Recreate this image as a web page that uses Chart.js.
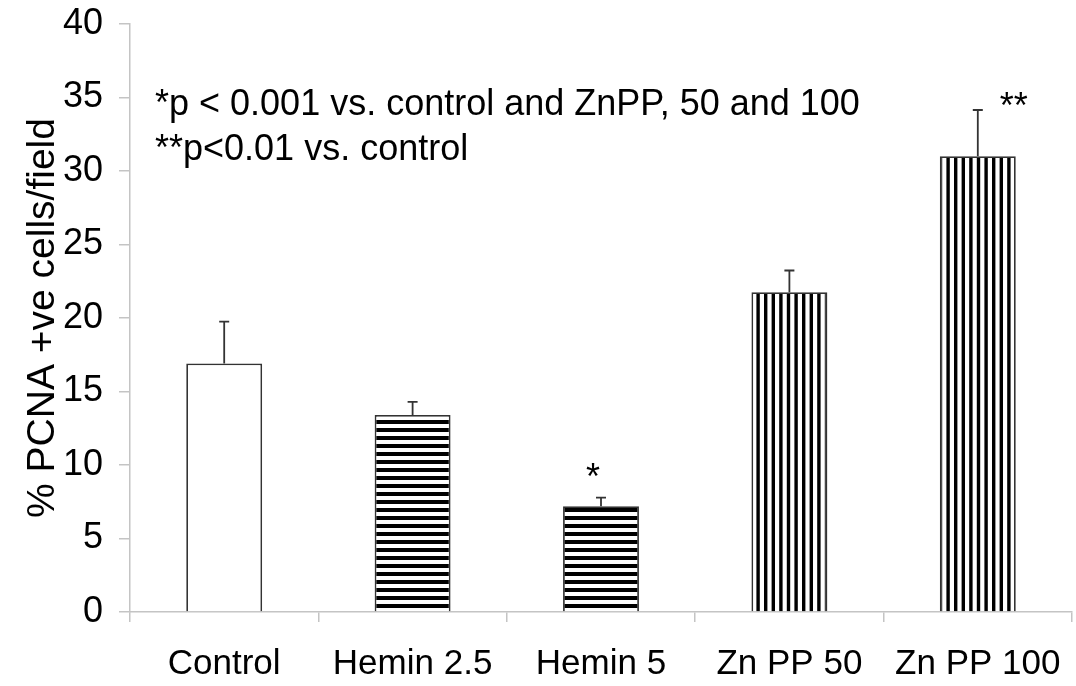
<!DOCTYPE html>
<html>
<head>
<meta charset="utf-8">
<script src="https://cdn.jsdelivr.net/npm/chart.js@4.4.0/dist/chart.umd.min.js"></script>
<style>
  html, body { margin: 0; padding: 0; background: #fff; }
  #wrap { width: 1076px; height: 686px; position: relative; }
</style>
</head>
<body>
<div id="wrap"><canvas id="c" width="1076" height="686"></canvas></div>
<script>
// ---- data ----
const categories = ['Control', 'Hemin 2.5', 'Hemin 5', 'Zn PP 50', 'Zn PP 100'];
const pcnaValues = [16.9, 13.4, 7.2, 21.75, 31.0];
const pcnaErrors = [2.85, 0.9, 0.58, 1.48, 3.15];
const significance = ['', '', '*', '', '**'];
const noteLines = ['*p < 0.001 vs. control and ZnPP, 50 and 100', '**p<0.01 vs. control'];
const yTicks = [0, 5, 10, 15, 20, 25, 30, 35, 40];
const yTitle = '% PCNA +ve cells/field';
const fillKinds = ['plain', 'hstripe', 'hstripe', 'vstripe', 'vstripe'];

const FONT = '"Liberation Sans", Arial, Helvetica, sans-serif';

function makePattern(kind) {
  const cv = document.createElement('canvas');
  const g = cv.getContext('2d');
  if (kind === 'hstripe') {
    cv.width = 8; cv.height = 8;
    g.fillStyle = '#fff'; g.fillRect(0, 0, 8, 8);
    g.fillStyle = '#000'; g.fillRect(0, 4, 8, 4);
  } else if (kind === 'vstripe') {
    cv.width = 38; cv.height = 8;
    g.fillStyle = '#fff'; g.fillRect(0, 0, 38, 8);
    g.fillStyle = '#000';
    for (let i = 0; i < 5; i++) g.fillRect(i * 7.6 + 4, 0, 3.4, 8);
  } else {
    return '#ffffff';
  }
  return g.createPattern(cv, 'repeat');
}

const errorBarPlugin = {
  id: 'errorBars',
  afterDatasetsDraw(chart) {
    const ctx = chart.ctx;
    const meta = chart.getDatasetMeta(0);
    const ys = chart.scales.y;
    ctx.save();
    ctx.strokeStyle = '#333333';
    ctx.lineWidth = 1.8;
    meta.data.forEach((bar, i) => {
      const x = bar.x;
      const yb = ys.getPixelForValue(pcnaValues[i]);
      const yt = ys.getPixelForValue(pcnaValues[i] + pcnaErrors[i]);
      ctx.beginPath();
      ctx.moveTo(x, yb); ctx.lineTo(x, yt);
      ctx.moveTo(x - 5, yt); ctx.lineTo(x + 5, yt);
      ctx.stroke();
    });
    // significance marks
    ctx.fillStyle = '#000';
    ctx.font = '36px ' + FONT;
    ctx.textAlign = 'center';
    ctx.textBaseline = 'alphabetic';
    meta.data.forEach((bar, i) => {
      if (!significance[i]) return;
      let x = bar.x, y;
      if (significance[i] === '*') {
        x = bar.x - 8;
        y = ys.getPixelForValue(pcnaValues[i] + pcnaErrors[i]) - 9;
      } else {
        x = bar.x + 36;
        y = ys.getPixelForValue(35) + 20;
      }
      ctx.fillText(significance[i], x, y);
    });
    // notes
    ctx.textAlign = 'left';
    const ca = chart.chartArea;
    noteLines.forEach((t, k) => {
      ctx.fillText(t, ca.left + 25, ca.top + 91 + k * 45);
    });
    ctx.restore();
  }
};

const ctx = document.getElementById('c').getContext('2d');
new Chart(ctx, {
  type: 'bar',
  data: {
    labels: categories,
    datasets: [{
      data: pcnaValues,
      backgroundColor: fillKinds.map(makePattern),
      borderColor: '#333333',
      borderWidth: 1.8,
      borderSkipped: 'bottom',
      categoryPercentage: 1.0,
      barPercentage: 0.403
    }]
  },
  options: {
    responsive: false,
    animation: false,
    devicePixelRatio: 1,
    layout: { padding: { top: 24, right: 4, left: 0, bottom: 0 } },
    plugins: { legend: { display: false }, tooltip: { enabled: false } },
    scales: {
      x: {
        grid: { offset: true, drawOnChartArea: false, drawTicks: true, tickLength: 10, color: '#c4c4c4', lineWidth: 1.5 },
        border: { color: '#c4c4c4', width: 1.5 },
        ticks: { color: '#000', font: { family: FONT, size: 35 }, padding: 21, maxRotation: 0, autoSkip: false },
        afterFit(s) { s.height = 74; s.paddingLeft = 0; s.paddingRight = 0; }
      },
      y: {
        min: 0, max: 40,
        afterBuildTicks(s) { s.ticks = yTicks.map(v => ({ value: v })); },
        grid: { drawOnChartArea: false, drawTicks: true, tickLength: 11, color: '#c4c4c4', lineWidth: 1.5 },
        border: { color: '#c4c4c4', width: 1.5 },
        ticks: { color: '#000', font: { family: FONT, size: 36 }, padding: 16 },
        title: { display: true, text: yTitle, color: '#000', font: { family: FONT, size: 39 }, padding: { top: 20, bottom: 0 } },
        afterFit(s) { s.width = 130; s.paddingTop = 0; s.paddingBottom = 0; }
      }
    }
  },
  plugins: [errorBarPlugin]
});
</script>
</body>
</html>
